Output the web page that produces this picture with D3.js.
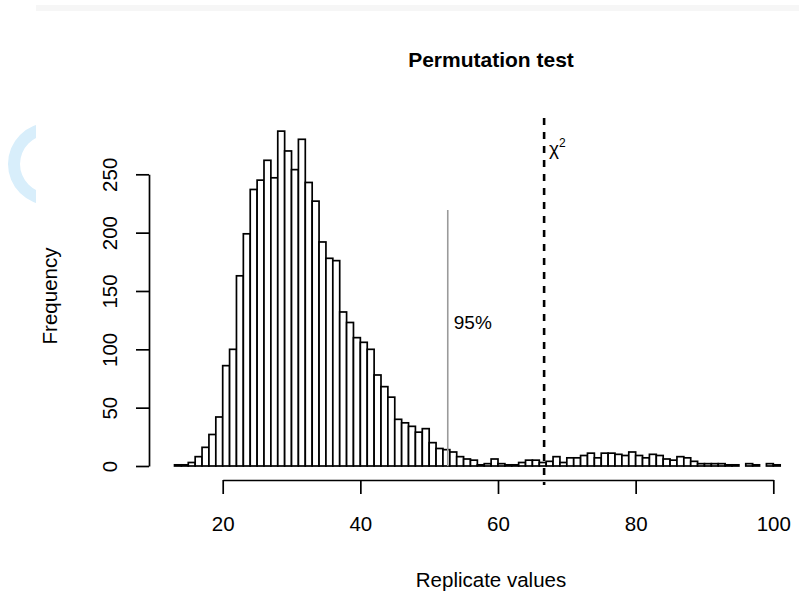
<!DOCTYPE html>
<html>
<head>
<meta charset="utf-8">
<script src="https://cdn.jsdelivr.net/npm/d3@7"></script>
<style>
  body { margin: 0; background: #fff; }
  svg { display: block; font-family: 'Liberation Sans', Arial, sans-serif; }
</style>
</head>
<body>
<svg id="fig" width="799" height="595"></svg>
<script>
// histogram counts, one per bin of width 1 starting at 13
const binStart = 13;
const binWidth = 1;
const counts = [
    1, 1, 3, 8, 16, 27, 42, 86, 100, 163,
    199, 237, 245, 262, 247, 287, 270, 254, 280, 243,
    227, 192, 178, 176, 132, 123, 110, 106, 100, 78,
    68, 59, 40, 37, 34, 29, 32, 20, 15, 14,
    12, 8, 6, 5, 1, 2, 6, 2, 1, 1,
    3, 5, 5, 3, 4, 8, 3, 7, 7, 9,
    11, 7, 11, 11, 10, 9, 12, 9, 7, 10,
    9, 6, 5, 8, 7, 4, 2, 2, 2, 2,
    1, 1, 0, 2, 1, 0, 2, 1, 0, 0,
    0, 0
];
const xTicks = [20, 40, 60, 80, 100];
const yTicks = [0, 50, 100, 150, 200, 250];
const cutoff95 = 52.7;
const chiValue = 66.7;

const svg = d3.select('#fig');
const width = +svg.attr('width');
const height = +svg.attr('height');

const bins = counts.map((c, i) => ({ x0: binStart + i * binWidth, x1: binStart + (i + 1) * binWidth, n: c }));

const xScale = d3.scaleLinear().domain([20, 100]).range([222.7, 773.3]);
const yScale = d3.scaleLinear().domain([0, 250]).range([466, 174.3]);
const fs = 20.5;

// faint decorations from the screenshot
svg.append('rect').attr('x', 36).attr('y', 5).attr('width', width - 36).attr('height', 6).attr('fill', '#f6f6f6');
svg.append('defs').append('clipPath').attr('id', 'arcclip')
    .append('rect').attr('x', 0).attr('y', 100).attr('width', 36).attr('height', 130);
svg.append('g')
    .attr('clip-path', 'url(#arcclip)')
    .append('path')
    .attr('transform', 'translate(49,164)')
    .attr('d', d3.arc()({ innerRadius: 29, outerRadius: 41, startAngle: Math.PI, endAngle: 2 * Math.PI }))
    .attr('fill', '#d8eefb');

svg.append('text')
    .attr('x', 491).attr('y', 67)
    .attr('text-anchor', 'middle')
    .attr('font-weight', 'bold')
    .attr('font-size', 21)
    .text('Permutation test');

// bars
svg.append('g').selectAll('rect').data(bins).join('rect')
    .attr('x', d => xScale(d.x0))
    .attr('width', d => xScale(d.x1) - xScale(d.x0))
    .attr('y', d => yScale(d.n))
    .attr('height', d => yScale(0) - yScale(d.n))
    .attr('fill', '#fff')
    .attr('stroke', '#000')
    .attr('stroke-width', 1.7);

// 95% line
svg.append('line')
    .attr('x1', xScale(cutoff95)).attr('x2', xScale(cutoff95))
    .attr('y1', 210).attr('y2', yScale(0))
    .attr('stroke', '#9a9a9a').attr('stroke-width', 1.6);
svg.append('text')
    .attr('x', xScale(cutoff95) + 6).attr('y', 329)
    .attr('font-size', 19)
    .text('95%');

// chi-square line
svg.append('line')
    .attr('x1', xScale(chiValue)).attr('x2', xScale(chiValue))
    .attr('y1', 118).attr('y2', 485)
    .attr('stroke', '#000').attr('stroke-width', 2.6)
    .attr('stroke-dasharray', '7,7');
const chi = svg.append('text')
    .attr('x', xScale(chiValue) + 5).attr('y', 155)
    .attr('font-size', 19)
    .text('χ');
chi.append('tspan').attr('dy', -8).attr('font-size', 12).text('2');

// x axis
const xAxis = svg.append('g')
    .attr('transform', 'translate(0,480)')
    .call(d3.axisBottom(xScale).tickValues(xTicks).tickSize(14).tickPadding(22).tickSizeOuter(0));
xAxis.select('.domain').attr('stroke-width', 1.7);
xAxis.selectAll('.tick line').attr('stroke-width', 1.7);
xAxis.selectAll('.tick text').attr('font-size', fs).attr('font-family', null);

// y axis
const yAxis = svg.append('g')
    .attr('transform', 'translate(149,0)')
    .call(d3.axisLeft(yScale).tickValues(yTicks).tickSize(13).tickSizeOuter(0));
yAxis.select('.domain').attr('stroke-width', 1.7);
yAxis.selectAll('.tick line').attr('stroke-width', 1.7);
yAxis.selectAll('.tick text')
    .attr('font-size', fs).attr('font-family', null)
    .attr('x', null).attr('dy', null)
    .attr('text-anchor', 'middle')
    .attr('transform', 'translate(-32,0) rotate(-90)');

svg.append('text')
    .attr('transform', 'translate(57,296) rotate(-90)')
    .attr('text-anchor', 'middle')
    .attr('font-size', fs)
    .text('Frequency');
svg.append('text')
    .attr('x', 491).attr('y', 587)
    .attr('text-anchor', 'middle')
    .attr('font-size', fs)
    .text('Replicate values');
</script>
</body>
</html>
